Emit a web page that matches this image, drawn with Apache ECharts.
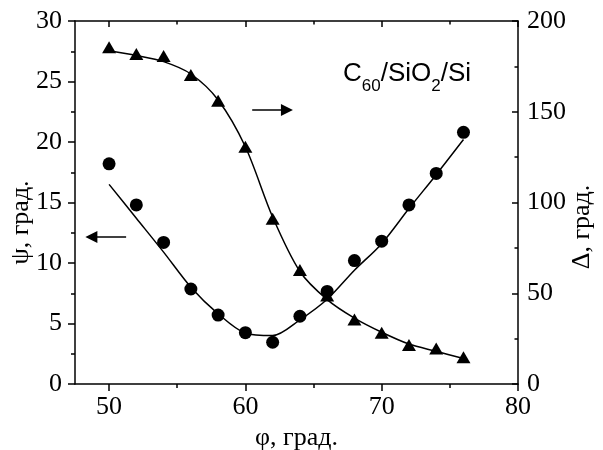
<!DOCTYPE html>
<html>
<head>
<meta charset="utf-8">
<script src="https://cdn.jsdelivr.net/npm/echarts@6/dist/echarts.min.js"></script>
<style>
	html, body { margin: 0; padding: 0; background: #fff; }
	#chart { width: 603px; height: 450px; }
</style>
</head>
<body>
<div id="chart"></div>
<script>
	
	// angle of incidence, deg
	var phi = [50, 52, 54, 56, 58, 60, 62, 64, 66, 68, 70, 72, 74, 76];
	
	// measured psi (circles, left axis)
	var psi = [18.2, 14.8, 11.7, 7.85, 5.7, 4.24, 3.45, 5.6, 7.65, 10.2, 11.8, 14.8, 17.4, 20.8];
	
	// measured delta (triangles, right axis)
	var delta = [185.5, 181.8, 180.7, 170.2, 156, 130.7, 91, 62.8, 48.8, 35.5, 28.3, 21.5, 19.6, 14.7];
	
	// fitted curves
	var psiFit = [16.5, 13.7, 10.9, 8.0, 5.8, 4.2, 4.0, 5.3, 7.0, 9.4, 11.6, 14.5, 17.3, 20.2];
	var deltaFit = [183.6, 181, 177.6, 170.8, 156.5, 130.7, 92, 62, 46.5, 36.3, 28.5, 22, 18, 14];
	
	var xMajor = [50, 60, 70, 80],
		xMinor = [55, 65, 75];
	
	// sample label, [text, subscript?]
	var sampleParts = [["C", 0], ["60", 1], ["/SiO", 0], ["2", 1], ["/Si", 0]];
	
	var font = "Liberation Serif",
		sans = "Liberation Sans",
		black = "#000";
	
	function pairs(ys) {
		
		return phi.map(function(x, i) {
			return [x, ys[i]];
		});
		
	}
	
	function xAxis(pos, ticks, len, inside, main) {
		
		return {
			type: "value",
			position: pos,
			min: 47.5,
			max: 80,
			axisLine: { show: !!main, lineStyle: { color: black, width: 1.5 } },
			axisTick: { show: true, customValues: ticks, length: len, inside: inside, lineStyle: { color: black, width: 1.5 } },
			axisLabel: main && pos === "bottom" ? {
				customValues: xMajor,
				margin: 10,
				color: black,
				fontFamily: font,
				fontSize: 26
			} : { show: false },
			splitLine: { show: false },
			name: main && pos === "bottom" ? "φ, град." : "",
			nameLocation: "middle",
			nameGap: 38,
			nameTextStyle: { color: black, fontFamily: font, fontSize: 26 }
		};
		
	}
	
	/*
	 * C60/SiO2/Si with real subscripts, laid out by measured widths
	 */
	function sampleLabel(left, top) {
		
		var ctx = document.createElement("canvas").getContext("2d"),
			x = left,
			out = [];
		
		sampleParts.forEach(function(p) {
			
			var size = p[1] ? 17 : 26;
			
			ctx.font = size + "px '" + sans + "'";
			
			out.push({
				type: "text",
				x: x,
				y: p[1] ? top + 17 : top,
				silent: true,
				style: {
					text: p[0],
					fill: black,
					font: size + "px '" + sans + "'",
					verticalAlign: "top"
				}
			});
			
			x += ctx.measureText(p[0]).width;
			
		});
		
		return out;
		
	}
	
	var chart = echarts.init(document.getElementById("chart"));
	
	var arrowLine = {
		silent: true,
		symbol: ["none", "triangle"],
		symbolSize: 12,
		label: { show: false },
		lineStyle: { color: black, width: 1.5, type: "solid", opacity: 1 },
		itemStyle: { color: black, opacity: 1 },
		emphasis: { disabled: true }
	};
	
	chart.setOption({
		animation: false,
		backgroundColor: "#fff",
		grid: {
			left: 75,
			right: 85,
			top: 21,
			bottom: 66,
			outerBoundsMode: "none"
		},
		xAxis: [
			xAxis("bottom", xMajor, 7, false, true),
			xAxis("bottom", xMinor, 4, false, false),
			xAxis("top", xMajor, 6, true, true),
			xAxis("top", xMinor, 3.5, true, false)
		],
		yAxis: [{
			type: "value",
			position: "left",
			min: 0,
			max: 30,
			interval: 5,
			axisLine: { show: true, lineStyle: { color: black, width: 1.5 } },
			axisTick: { inside: false, length: 7, lineStyle: { color: black, width: 1.5 } },
			minorTick: { show: true, splitNumber: 2, length: 4, lineStyle: { color: black, width: 1.5 } },
			axisLabel: { margin: 13, color: black, fontFamily: font, fontSize: 26 },
			splitLine: { show: false },
			minorSplitLine: { show: false },
			name: "ψ, град.",
			nameLocation: "middle",
			nameRotate: 90,
			nameGap: 41,
			nameMoveOverlap: false,
			nameTextStyle: { color: black, fontFamily: font, fontSize: 26, padding: [0, 40, 0, 0] }
		}, {
			type: "value",
			position: "right",
			min: 0,
			max: 200,
			interval: 50,
			axisLine: { show: true, lineStyle: { color: black, width: 1.5 } },
			axisTick: { inside: true, length: 6, lineStyle: { color: black, width: 1.5 } },
			minorTick: { show: true, splitNumber: 2, length: 3.5, lineStyle: { color: black, width: 1.5 } },
			axisLabel: { margin: 9, color: black, fontFamily: font, fontSize: 26 },
			splitLine: { show: false },
			minorSplitLine: { show: false },
			name: "Δ, град.",
			nameLocation: "middle",
			nameRotate: 90,
			nameGap: 51,
			nameMoveOverlap: false,
			nameTextStyle: { color: black, fontFamily: font, fontSize: 26, padding: [0, 49, 0, 0] }
		}],
		graphic: sampleLabel(343, 61),
		series: [{
			type: "line",
			yAxisIndex: 0,
			data: pairs(psiFit),
			smooth: 0.3,
			showSymbol: false,
			silent: true,
			lineStyle: { color: black, width: 1.5 },
			markLine: Object.assign({
				data: [[{ coord: [51.25, 12.15] }, { coord: [48.7, 12.15] }]]
			}, arrowLine)
		}, {
			type: "line",
			yAxisIndex: 1,
			data: pairs(deltaFit),
			smooth: 0.3,
			showSymbol: false,
			silent: true,
			lineStyle: { color: black, width: 1.5 },
			markLine: Object.assign({
				data: [[{ coord: [60.5, 151] }, { coord: [63.05, 151] }]]
			}, arrowLine)
		}, {
			type: "scatter",
			yAxisIndex: 0,
			data: pairs(psi),
			symbol: "circle",
			symbolSize: 13,
			itemStyle: { color: black, opacity: 1 }
		}, {
			type: "scatter",
			yAxisIndex: 1,
			data: pairs(delta),
			symbol: "triangle",
			symbolSize: [14, 12],
			itemStyle: { color: black, opacity: 1 }
		}]
	});
	
</script>
</body>
</html>
